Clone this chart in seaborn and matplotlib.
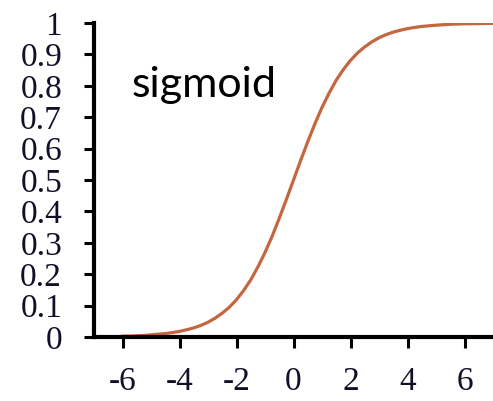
import matplotlib
matplotlib.use('Agg')
import matplotlib.pyplot as plt
import seaborn as sns
import pandas as pd

sns.set_style('ticks')

# Curve values
x_vals = [-6, -5.75, -5.5, -5.25, -5, -4.75, -4.5, -4.25, -4, -3.75, -3.5,
          -3.25, -3, -2.75, -2.5, -2.25, -2, -1.75, -1.5, -1.25, -1, -0.75,
          -0.5, -0.25, 0, 0.25, 0.5, 0.75, 1, 1.25, 1.5, 1.75, 2, 2.25, 2.5,
          2.75, 3, 3.25, 3.5, 3.75, 4, 4.25, 4.5, 4.75, 5, 5.5, 6, 6.5, 7]
y_vals = [0.003, 0.003, 0.004, 0.005, 0.007, 0.009, 0.011, 0.014, 0.018,
          0.023, 0.029, 0.037, 0.047, 0.060, 0.076, 0.095, 0.119, 0.148,
          0.182, 0.223, 0.269, 0.321, 0.378, 0.438, 0.5, 0.562, 0.622,
          0.679, 0.731, 0.777, 0.818, 0.852, 0.881, 0.905, 0.924, 0.940,
          0.953, 0.963, 0.971, 0.977, 0.982, 0.986, 0.989, 0.991, 0.993,
          0.996, 0.9975, 0.998, 0.999]
x_ticks = [-6, -4, -2, 0, 2, 4, 6]
y_ticks = [0, 0.1, 0.2, 0.3, 0.4, 0.5, 0.6, 0.7, 0.8, 0.9, 1]
y_tick_labels = ['0', '0.1', '0.2', '0.3', '0.4', '0.5', '0.6', '0.7', '0.8', '0.9', '1']

df = pd.DataFrame({'x': x_vals, 'y': y_vals})

fig = plt.figure(figsize=(4.93, 4.01), dpi=100)
ax = fig.add_axes([94 / 493, 1 - 337 / 401, 1 - 94 / 493, (337 - 23) / 401])

sns.lineplot(data=df, x='x', y='y', ax=ax, color='#c4663f', linewidth=2.3)

ax.set_xlim(-7, 7)
ax.set_ylim(0, 1)
ax.set_xticks(x_ticks)
ax.set_xticklabels([str(t) for t in x_ticks])
ax.set_yticks(y_ticks)
ax.set_yticklabels(y_tick_labels)
ax.set_xlabel('')
ax.set_ylabel('')

sns.despine(ax=ax)
for s in ['left', 'bottom']:
    ax.spines[s].set_linewidth(3)
    ax.spines[s].set_color('black')

for lab in ax.get_xticklabels() + ax.get_yticklabels():
    lab.set_family('Liberation Serif')
    lab.set_fontsize(24)
    lab.set_color('#101028')

ax.tick_params(axis='y', length=7, width=2.2, pad=16, color='black')
ax.tick_params(axis='x', length=8, width=2.2, pad=13, color='black')

fig.text(132 / 493, 1 - 97 / 401, 'sigmoid', family='Lato', fontsize=31,
         va='baseline', ha='left', color='black')

fig.savefig('out.png', dpi=100)
